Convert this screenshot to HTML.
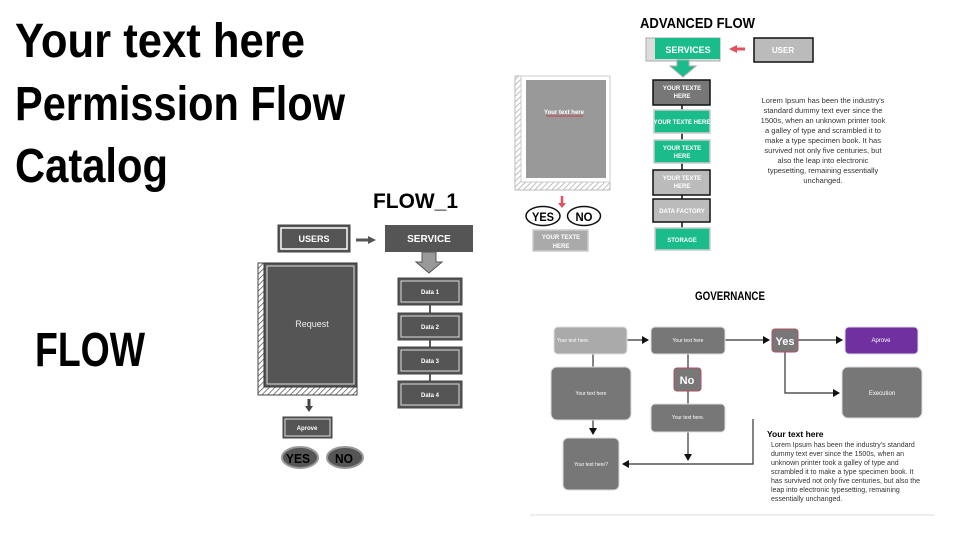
<!DOCTYPE html>
<html><head><meta charset="utf-8"><style>
html,body{margin:0;padding:0;background:#fff;width:960px;height:540px;overflow:hidden}
svg{display:block}
text{font-family:"Liberation Sans",sans-serif}
</style></head><body>
<svg width="960" height="540" viewBox="0 0 960 540" xmlns="http://www.w3.org/2000/svg">
<defs>
<pattern id="hatch" width="4" height="4" patternUnits="userSpaceOnUse" patternTransform="rotate(45)">
<rect width="4" height="4" fill="#fff"/><line x1="0" y1="0" x2="0" y2="4" stroke="#555" stroke-width="1.5"/></pattern>
<pattern id="hatch2" width="4" height="4" patternUnits="userSpaceOnUse" patternTransform="rotate(45)">
<rect width="4" height="4" fill="#fff"/><line x1="0" y1="0" x2="0" y2="4" stroke="#aaa" stroke-width="1.5"/></pattern>
<marker id="ah" markerWidth="8" markerHeight="8" refX="6" refY="4" orient="auto" markerUnits="userSpaceOnUse"><path d="M0,0 L7,4 L0,8z" fill="#111"/></marker>
</defs>

<g font-weight="bold" fill="#000" font-size="48">
<text x="15" y="57" textLength="290" lengthAdjust="spacingAndGlyphs">Your text here</text>
<text x="15" y="120" textLength="330" lengthAdjust="spacingAndGlyphs">Permission Flow</text>
<text x="15" y="182" textLength="153" lengthAdjust="spacingAndGlyphs">Catalog</text>
<text x="35" y="366" textLength="110" lengthAdjust="spacingAndGlyphs">FLOW</text>
</g>

<text x="373" y="208" font-size="21" font-weight="bold" textLength="85" lengthAdjust="spacingAndGlyphs">FLOW_1</text>
<rect x="278" y="225" width="72" height="27" fill="#555" stroke="#444" stroke-width="1"/>
<rect x="281" y="228" width="66" height="21" fill="#555" stroke="#fff" stroke-width="1.5"/>
<text x="314" y="242" font-size="9" font-weight="bold" fill="#fff" text-anchor="middle">USERS</text>
<path d="M356,240 H370" stroke="#555" stroke-width="3"/><path d="M368,236 L376,240 L368,244z" fill="#555"/>
<rect x="385" y="225" width="88" height="27" fill="#555"/>
<text x="429" y="242" font-size="10" font-weight="bold" fill="#fff" text-anchor="middle">SERVICE</text>
<path d="M422,252 V262 H416 L429,273 L442,262 H436 V252z" fill="#999" stroke="#555" stroke-width="1"/>
<line x1="430" y1="300" x2="430" y2="385" stroke="#222" stroke-width="1.5"/>
<g font-size="6" font-weight="bold" fill="#fff" text-anchor="middle">
<rect x="398" y="278" width="64" height="27" fill="#555" stroke="#444"/><rect x="401" y="281" width="58" height="21" fill="#555" stroke="#ddd"/><text x="430" y="294">Data 1</text>
<rect x="398" y="313" width="64" height="27" fill="#555" stroke="#444"/><rect x="401" y="316" width="58" height="21" fill="#555" stroke="#ddd"/><text x="430" y="329">Data 2</text>
<rect x="398" y="347" width="64" height="27" fill="#555" stroke="#444"/><rect x="401" y="350" width="58" height="21" fill="#555" stroke="#ddd"/><text x="430" y="363">Data 3</text>
<rect x="398" y="381" width="64" height="27" fill="#555" stroke="#444"/><rect x="401" y="384" width="58" height="21" fill="#555" stroke="#ddd"/><text x="430" y="397">Data 4</text>
</g>
<rect x="258" y="263" width="99" height="132" fill="url(#hatch)" stroke="#444"/>
<rect x="264" y="263" width="93" height="124" fill="#555" stroke="#333" stroke-width="1"/>
<rect x="267" y="266" width="87" height="118" fill="#555" stroke="#ddd" stroke-width="1"/>
<text x="312" y="327" font-size="9" fill="#eee" text-anchor="middle">Request</text>
<path d="M309,399 V407" stroke="#444" stroke-width="3"/><path d="M305,406 L309,412 L313,406z" fill="#444"/>
<rect x="283" y="417" width="49" height="21" fill="#555" stroke="#444"/>
<rect x="285" y="419" width="45" height="17" fill="#555" stroke="#ddd"/>
<text x="307" y="430" font-size="6" font-weight="bold" fill="#fff" text-anchor="middle">Aprove</text>
<ellipse cx="300" cy="457.5" rx="18" ry="10.5" fill="#555" stroke="#999" stroke-width="2"/>
<text x="298" y="463" font-size="13" font-weight="bold" text-anchor="middle" textLength="24" lengthAdjust="spacingAndGlyphs">YES</text>
<ellipse cx="345" cy="457.5" rx="18" ry="10.5" fill="#555" stroke="#999" stroke-width="2"/>
<text x="344" y="463" font-size="13" font-weight="bold" text-anchor="middle" textLength="18" lengthAdjust="spacingAndGlyphs">NO</text>

<text x="640" y="28" font-size="15" font-weight="bold" textLength="115" lengthAdjust="spacingAndGlyphs">ADVANCED FLOW</text>
<rect x="646" y="38" width="74" height="23" fill="#ddd" stroke="#aaa"/>
<rect x="655" y="38" width="65" height="21" fill="#1abc8c"/>
<text x="688" y="53" font-size="9" font-weight="bold" fill="#fff" text-anchor="middle">SERVICES</text>
<path d="M745,49 H735" stroke="#e05060" stroke-width="3"/><path d="M737,45 L729,49 L737,53z" fill="#e05060"/>
<rect x="754" y="38" width="59" height="24" fill="#bbb" stroke="#111" stroke-width="1.5"/>
<text x="783" y="53" font-size="8" font-weight="bold" fill="#fff" text-anchor="middle">USER</text>
<path d="M677,60 V66 H670 L683,77 L696,66 H689 V60z" fill="#1abc8c" stroke="#aaa" stroke-width="1"/>
<line x1="682" y1="100" x2="682" y2="232" stroke="#111" stroke-width="1.5"/>
<g font-size="6" font-weight="bold" fill="#fff" text-anchor="middle">
<rect x="653" y="80" width="57" height="25" fill="#777" stroke="#111" stroke-width="1.5"/><text x="682" y="90">YOUR TEXTE</text><text x="682" y="98">HERE</text>
<rect x="654" y="110" width="56" height="23" fill="#1abc8c" stroke="#ccc" stroke-width="1.5"/><text x="682" y="124">YOUR TEXTE HERE</text>
<rect x="654" y="140" width="56" height="23" fill="#1abc8c" stroke="#ccc" stroke-width="1.5"/><text x="682" y="150">YOUR TEXTE</text><text x="682" y="158">HERE</text>
<rect x="653" y="170" width="57" height="25" fill="#bbb" stroke="#111" stroke-width="1.5"/><text x="682" y="180">YOUR TEXTE</text><text x="682" y="188">HERE</text>
<rect x="653" y="199" width="57" height="23" fill="#bbb" stroke="#111" stroke-width="1.5"/><text x="682" y="213">DATA FACTORY</text>
<rect x="655" y="228" width="55" height="22" fill="#1abc8c" stroke="#ccc" stroke-width="1.5"/><text x="682" y="242">STORAGE</text>
</g>
<g font-size="7.5" fill="#333" text-anchor="middle">
<text x="823" y="103">Lorem Ipsum has been the industry's</text>
<text x="823" y="113">standard dummy text ever since the</text>
<text x="823" y="123">1500s, when an unknown printer took</text>
<text x="823" y="133">a galley of type and scrambled it to</text>
<text x="823" y="143">make a type specimen book. It has</text>
<text x="823" y="153">survived not only five centuries, but</text>
<text x="823" y="163">also the leap into electronic</text>
<text x="823" y="173">typesetting, remaining essentially</text>
<text x="823" y="183">unchanged.</text>
</g>
<rect x="515" y="76" width="95" height="114" fill="url(#hatch2)" stroke="#bbb"/>
<rect x="521" y="76" width="89" height="106" fill="#fff" stroke="#ccc"/>
<rect x="526" y="80" width="80" height="98" fill="#999"/>
<text x="564" y="114" font-size="6" font-weight="bold" fill="#fff" text-anchor="middle">Your text here</text>
<line x1="546" y1="116" x2="583" y2="116" stroke="#d04050" stroke-width="1"/>
<path d="M562,196 V204" stroke="#e05060" stroke-width="2.5"/><path d="M558,203 L562,208 L566,203z" fill="#e05060"/>
<ellipse cx="543" cy="216" rx="17" ry="9.5" fill="#fff" stroke="#111" stroke-width="1.5"/>
<text x="543" y="221" font-size="12" font-weight="bold" text-anchor="middle" textLength="22" lengthAdjust="spacingAndGlyphs">YES</text>
<ellipse cx="584" cy="216" rx="16.5" ry="9.5" fill="#fff" stroke="#111" stroke-width="1.5"/>
<text x="584" y="221" font-size="12" font-weight="bold" text-anchor="middle" textLength="17" lengthAdjust="spacingAndGlyphs">NO</text>
<rect x="533" y="230" width="55" height="21" fill="#aaa" stroke="#ccc" stroke-width="1.5"/>
<text x="561" y="239" font-size="6" font-weight="bold" fill="#fff" text-anchor="middle">YOUR TEXTE</text>
<text x="561" y="248" font-size="6" font-weight="bold" fill="#fff" text-anchor="middle">HERE</text>

<text x="730" y="300" font-size="12" font-weight="bold" text-anchor="middle" textLength="70" lengthAdjust="spacingAndGlyphs">GOVERNANCE</text>
<g stroke="#333" stroke-width="1.2" fill="none">
<path d="M627,340 H648" marker-end="url(#ah)"/>
<path d="M725,340 H769" marker-end="url(#ah)"/>
<path d="M798,340 H842" marker-end="url(#ah)"/>
<path d="M785,352 V393 H839" marker-end="url(#ah)"/>
<path d="M593,354 V367"/>
<path d="M593,420 V434" marker-end="url(#ah)"/>
<path d="M688,354 V368 M688,391 V404"/>
<path d="M688,432 V460" marker-end="url(#ah)"/>
<path d="M753,419 V464 H623" marker-end="url(#ah)"/>
</g>
<rect x="554" y="327" width="73" height="27" rx="4" fill="#aaa" stroke="#ddd"/>
<text x="557" y="342" font-size="5" fill="#fff">Your text here.</text>
<rect x="651" y="327" width="74" height="27" rx="4" fill="#777" stroke="#ddd"/>
<text x="688" y="342" font-size="5" fill="#fff" text-anchor="middle">Your text here</text>
<rect x="772" y="329" width="26" height="23" rx="3" fill="#777" stroke="#b05060"/>
<text x="785" y="345" font-size="11" font-weight="bold" fill="#fff" text-anchor="middle">Yes</text>
<rect x="845" y="327" width="73" height="27" rx="4" fill="#7030a0" stroke="#ddd"/>
<text x="881" y="342" font-size="6" fill="#fff" text-anchor="middle">Aprove</text>
<rect x="842" y="367" width="80" height="51" rx="6" fill="#777" stroke="#ddd"/>
<text x="882" y="395" font-size="6" fill="#fff" text-anchor="middle">Execution</text>
<rect x="551" y="367" width="80" height="53" rx="6" fill="#777" stroke="#ddd"/>
<text x="591" y="395" font-size="5" fill="#fff" text-anchor="middle">Your text here</text>
<rect x="674" y="368" width="27" height="23" rx="3" fill="#777" stroke="#b05060"/>
<text x="687" y="384" font-size="11" font-weight="bold" fill="#fff" text-anchor="middle">No</text>
<rect x="651" y="404" width="74" height="28" rx="4" fill="#777" stroke="#ddd"/>
<text x="688" y="419" font-size="5" fill="#fff" text-anchor="middle">Your text here.</text>
<rect x="563" y="438" width="56" height="52" rx="5" fill="#777" stroke="#ddd"/>
<text x="591" y="466" font-size="5" fill="#fff" text-anchor="middle">Your text here?</text>
<text x="767" y="437" font-size="8.5" font-weight="bold">Your text here</text>
<g font-size="7" fill="#333">
<text x="771" y="447">Lorem Ipsum has been the industry's standard</text>
<text x="771" y="456">dummy text ever since the 1500s, when an</text>
<text x="771" y="465">unknown printer took a galley of type and</text>
<text x="771" y="474">scrambled it to make a type specimen book. It</text>
<text x="771" y="483">has survived not only five centuries, but also the</text>
<text x="771" y="492">leap into electronic typesetting, remaining</text>
<text x="771" y="501">essentially unchanged.</text>
</g>
<line x1="530" y1="515" x2="935" y2="515" stroke="#ddd" stroke-width="1"/>
</svg>
</body></html>
